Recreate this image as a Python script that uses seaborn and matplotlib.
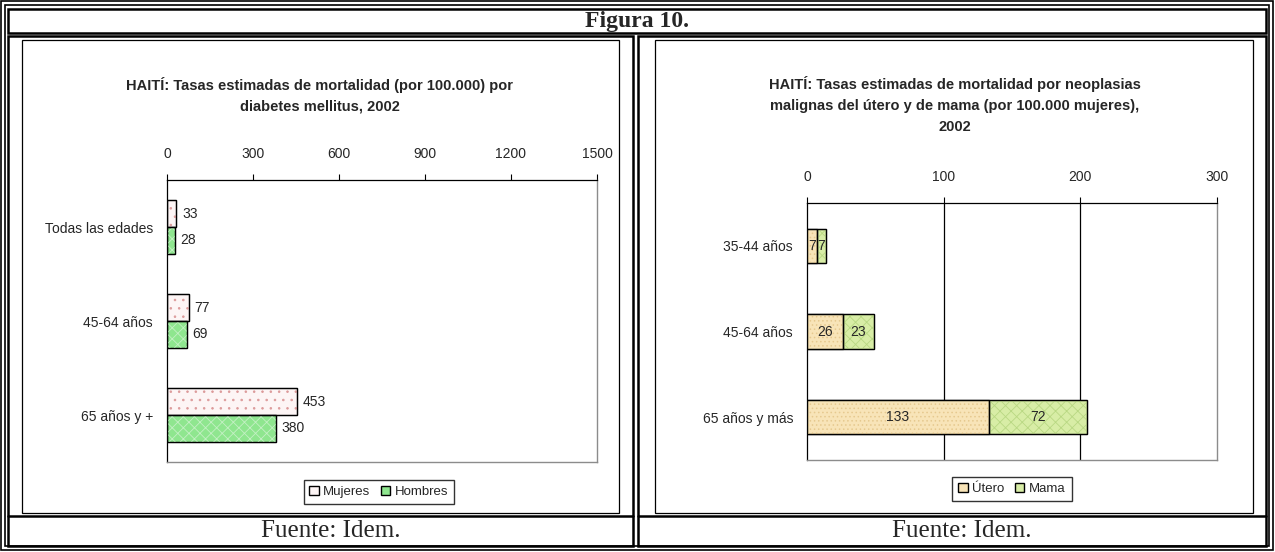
import matplotlib
matplotlib.use("Agg")
import matplotlib.pyplot as plt
import seaborn as sns
import pandas as pd
from matplotlib.patches import Rectangle, Patch
from matplotlib.lines import Line2D

# data
edades_diab = ["Todas las edades", "45-64 años", "65 años y +"]
mujeres = [33, 77, 453]
hombres = [28, 69, 380]

edades_neo = ["35-44 años", "45-64 años", "65 años y más"]
utero = [7, 26, 133]
mama = [7, 23, 72]

titulo_izq = "HAITÍ: Tasas estimadas de mortalidad (por 100.000) por\ndiabetes mellitus, 2002"
titulo_der = ("HAITÍ: Tasas estimadas de mortalidad por neoplasias\n"
              "malignas del útero y de mama (por 100.000 mujeres),\n2002")

sns.set_style("white")
plt.rcParams["font.family"] = ["Liberation Sans", "DejaVu Sans"]
plt.rcParams["hatch.linewidth"] = 0.6

W, H = 1275, 552
fig = plt.figure(figsize=(W / 100, H / 100), dpi=100)


def fx(x):
    return x / W


def fy(y):
    return 1 - y / H


def box(x0, y0, x1, y1, lw=1.0, color="black"):
    fig.add_artist(Rectangle((fx(x0), fy(y1)), fx(x1 - x0), (y1 - y0) / H,
                             transform=fig.transFigure, fill=False,
                             lw=lw, edgecolor=color))


def hline(x0, x1, y, lw=1.0):
    fig.add_artist(Line2D([fx(x0), fx(x1)], [fy(y), fy(y)],
                          transform=fig.transFigure, lw=lw, color="black"))


def trama(ax, patch, hatch, color, x0=None, z=4):
    # texture over a bar, then the black outline again on top
    x = patch.get_x() if x0 is None else x0
    w = patch.get_x() + patch.get_width() - x
    ax.add_patch(Rectangle((x, patch.get_y()), w, patch.get_height(),
                           fill=False, hatch=hatch, edgecolor=color,
                           lw=0, zorder=z))
    ax.add_patch(Rectangle((x, patch.get_y()), w, patch.get_height(),
                           fill=False, edgecolor="black", lw=0.9,
                           zorder=z + 0.1))


# frame of the page
box(1, 1, 1273, 550, lw=1.2)
box(5, 5, 1269, 546, lw=1.2)
box(8, 9, 1266, 33, lw=1.8)
box(8, 36, 633, 546, lw=1.8)
box(638, 36, 1266, 546, lw=1.8)
hline(8, 633, 516, lw=1.8)
hline(638, 1266, 516, lw=1.8)
box(22, 40, 619, 513, lw=0.9)
box(655, 40, 1253, 513, lw=0.9)

fig.text(fx(637), fy(21), "Figura 10.", ha="center", va="center",
         fontsize=17, fontweight="bold", family="Liberation Serif")
fig.text(fx(331), fy(531), "Fuente: Idem.", ha="center", va="center",
         fontsize=18, family="Liberation Serif")
fig.text(fx(962), fy(531), "Fuente: Idem.", ha="center", va="center",
         fontsize=18, family="Liberation Serif")

fig.text(fx(320), fy(95), titulo_izq, ha="center", va="center",
         fontsize=10.5, fontweight="bold", linespacing=1.6)
fig.text(fx(955), fy(105), titulo_der, ha="center", va="center",
         fontsize=10.5, fontweight="bold", linespacing=1.6)


def style_axes(ax, xmax, step):
    ax.set_xlim(0, xmax)
    ax.set_xticks(range(0, xmax + 1, step))
    ax.xaxis.tick_top()
    ax.tick_params(axis="x", direction="out", length=4, width=0.8,
                   labelsize=10, pad=10, color="black")
    ax.tick_params(axis="y", which="major", length=0, labelsize=10, pad=10)
    ax.set_yticks([-0.5, 0.5, 1.5, 2.5], minor=True)
    ax.tick_params(axis="y", which="minor", direction="out", length=4,
                   width=0.8, color="black")
    ax.set_ylim(2.5, -0.5)
    ax.set_xlabel("")
    ax.set_ylabel("")
    for s in ["left", "top"]:
        ax.spines[s].set_color("black")
        ax.spines[s].set_linewidth(0.9)
    for s in ["right", "bottom"]:
        ax.spines[s].set_color("#8c8c8c")
        ax.spines[s].set_linewidth(1.0)
        ax.spines[s].set_visible(True)


def leyenda(ax, items, cx, cy):
    ax.legend(handles=[Patch(facecolor=c, edgecolor="black", label=l)
                       for l, c in items],
              loc="center", bbox_to_anchor=(fx(cx), fy(cy)),
              bbox_transform=fig.transFigure, ncol=2, fontsize=9.5,
              frameon=True, fancybox=False, edgecolor="black",
              handlelength=0.7, handleheight=0.7, handletextpad=0.35,
              columnspacing=0.8, borderpad=0.45)


# left chart
df1 = pd.DataFrame({
    "edad": edades_diab * 2,
    "valor": mujeres + hombres,
    "sexo": ["Mujeres"] * 3 + ["Hombres"] * 3,
})
ax1 = fig.add_axes([fx(167), fy(462), fx(597 - 167), (462 - 180) / H])
sns.barplot(data=df1, x="valor", y="edad", hue="sexo", orient="h",
            palette=["#fdf5f5", "#8fe68f"], saturation=1, width=0.57, ax=ax1,
            edgecolor="black", linewidth=0.9, legend=False)
for p in ax1.containers[0]:
    trama(ax1, p, "..", "#dc9a9a")
for p in ax1.containers[1]:
    trama(ax1, p, "xxx", "#c4f0c4")
for cont in ax1.containers:
    ax1.bar_label(cont, padding=4, fontsize=10)
style_axes(ax1, 1500, 300)
leyenda(ax1, [("Mujeres", "#fdf5f5"), ("Hombres", "#8fe68f")], 379, 492)

# right chart (stacked)
total = [u + m for u, m in zip(utero, mama)]
df2 = pd.DataFrame({"edad": edades_neo, "utero": utero, "total": total})
ax2 = fig.add_axes([fx(807), fy(460), fx(1217 - 807), (460 - 203) / H])
for v in [100, 200]:
    ax2.axvline(v, color="black", lw=0.9, zorder=0)
sns.barplot(data=df2, x="total", y="edad", orient="h", color="#d8eda6",
            saturation=1, width=0.4, ax=ax2, edgecolor="black", linewidth=0.9,
            zorder=2)
sns.barplot(data=df2, x="utero", y="edad", orient="h", color="#f8e4b8",
            saturation=1, width=0.4, ax=ax2, edgecolor="black", linewidth=0.9,
            zorder=3)
c_tot, c_ut = ax2.containers[0], ax2.containers[1]
for pt, pu in zip(c_tot, c_ut):
    trama(ax2, pu, "....", "#e6c98f")
    trama(ax2, pt, "xxx", "#b9d883", x0=pu.get_width())
ax2.bar_label(c_ut, labels=[str(v) for v in utero], label_type="center",
              fontsize=10, zorder=5)
for bar, v in zip(c_tot, mama):
    x = bar.get_width() - v / 2
    ax2.text(x, bar.get_y() + bar.get_height() / 2, str(v), ha="center",
             va="center", fontsize=10, zorder=5)
style_axes(ax2, 300, 100)
leyenda(ax2, [("Útero", "#f8e4b8"), ("Mama", "#d8eda6")], 1012, 489)

fig.savefig("out.png", dpi=100)
